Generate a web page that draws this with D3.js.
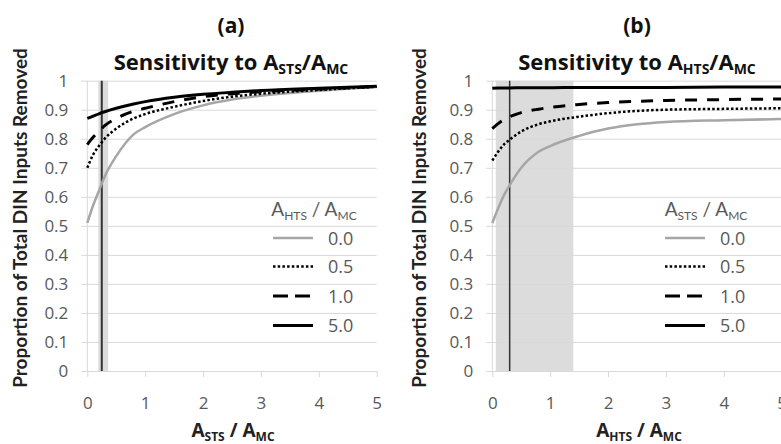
<!DOCTYPE html>
<html>
<head>
<meta charset="utf-8">
<script src="https://cdn.jsdelivr.net/npm/d3@7"></script>
<style>
  body { margin: 0; background: #fff; }
  svg { display: block; }
</style>
</head>
<body>
<svg id="chart" width="781" height="444"></svg>
<script>
const xPoints = [0, 0.1, 0.2, 0.3, 0.5, 0.8, 1, 1.5, 2, 2.5, 3, 4, 5];

// panel (a): sensitivity to A_STS/A_MC, one series per A_HTS/A_MC
const aHts00 = [0.51, 0.57, 0.62, 0.67, 0.74, 0.815, 0.84, 0.885, 0.915, 0.935, 0.948, 0.965, 0.978];
const aHts05 = [0.70, 0.745, 0.775, 0.80, 0.835, 0.87, 0.885, 0.91, 0.93, 0.945, 0.955, 0.968, 0.979];
const aHts10 = [0.78, 0.805, 0.825, 0.845, 0.87, 0.895, 0.905, 0.928, 0.945, 0.955, 0.962, 0.971, 0.98];
const aHts50 = [0.87, 0.878, 0.886, 0.893, 0.905, 0.92, 0.928, 0.943, 0.953, 0.96, 0.966, 0.974, 0.981];

// panel (b): sensitivity to A_HTS/A_MC, one series per A_STS/A_MC
const bSts00 = [0.51, 0.56, 0.605, 0.64, 0.70, 0.755, 0.775, 0.81, 0.835, 0.85, 0.858, 0.864, 0.868];
const bSts05 = [0.725, 0.755, 0.78, 0.797, 0.825, 0.85, 0.86, 0.876, 0.888, 0.896, 0.90, 0.903, 0.905];
const bSts10 = [0.835, 0.852, 0.866, 0.876, 0.89, 0.902, 0.908, 0.918, 0.925, 0.929, 0.932, 0.935, 0.937];
const bSts50 = [0.974, 0.975, 0.975, 0.975, 0.976, 0.976, 0.976, 0.977, 0.977, 0.977, 0.977, 0.978, 0.978];

const legendLabels = ["0.0", "0.5", "1.0", "5.0"];
const yTicks = [0, 0.1, 0.2, 0.3, 0.4, 0.5, 0.6, 0.7, 0.8, 0.9, 1];
const xTicks = [0, 1, 2, 3, 4, 5];

// reference line and shaded range on each panel
const aRefLine = 0.25;
const aRefBand = [0.19, 0.36];
const bRefLine = 0.3;
const bRefBand = [0.06, 1.4];

const FONT = "'Open Sans', Lato, sans-serif";
const FONT_NARROW = "Lato, 'Open Sans', sans-serif";
const GRID = "#d9d9d9";
const TEXT_GRAY = "#595959";

// line look for each legend entry
const styles = [
  { stroke: "#a6a6a6", width: 2.5, dash: null },
  { stroke: "#000", width: 2.5, dash: "2.5 2.2" },
  { stroke: "#000", width: 3, dash: "12 10" },
  { stroke: "#000", width: 3, dash: null }
];

const svg = d3.select("#chart");

// writes text made of normal and subscript parts
function richText(sel, parts, size) {
  const sub = Math.round(size * 0.62);
  const shift = Math.round(size * 0.2);
  let down = false;
  parts.forEach(([txt, isSub]) => {
    const t = sel.append("tspan").text(txt).attr("font-size", isSub ? sub : size);
    if (isSub && !down) { t.attr("dy", shift); down = true; }
    else if (!isSub && down) { t.attr("dy", -shift); down = false; }
  });
}

function drawPanel(p) {
  const x = d3.scaleLinear().domain([0, 5]).range([p.left, p.left + 289.4]);
  const y = d3.scaleLinear().domain([0, 1]).range([371, 80.7]);
  const g = svg.append("g");

  // shaded range
  g.append("rect")
    .attr("x", x(p.band[0]))
    .attr("y", y(1))
    .attr("width", x(p.band[1]) - x(p.band[0]))
    .attr("height", y(0) - y(1))
    .attr("fill", "#dcdcdc");

  // horizontal gridlines with y tick labels
  const yAxis = g.append("g")
    .attr("transform", `translate(${x(0)},0)`)
    .call(d3.axisLeft(y).tickValues(yTicks).tickFormat(d3.format("~g"))
      .tickSize(-(x(5) - x(0))).tickPadding(19));
  yAxis.select(".domain").remove();
  yAxis.selectAll(".tick line").attr("x1", -6).attr("stroke", GRID);
  yAxis.selectAll(".tick text")
    .attr("font-family", FONT).attr("font-size", 17).attr("fill", TEXT_GRAY);

  // x axis with outward ticks
  const xAxis = g.append("g")
    .attr("transform", `translate(0,${y(0)})`)
    .call(d3.axisBottom(x).tickValues(xTicks).tickFormat(d3.format("d"))
      .tickSize(6).tickPadding(20).tickSizeOuter(0));
  xAxis.select(".domain").attr("stroke", GRID);
  xAxis.selectAll(".tick line").attr("stroke", GRID);
  xAxis.selectAll(".tick text")
    .attr("font-family", FONT).attr("font-size", 17).attr("fill", TEXT_GRAY);

  // vertical axis line
  g.append("line")
    .attr("x1", x(0)).attr("x2", x(0))
    .attr("y1", y(1)).attr("y2", y(0))
    .attr("stroke", GRID);

  // reference line
  g.append("line")
    .attr("x1", x(p.ref)).attr("x2", x(p.ref))
    .attr("y1", y(1)).attr("y2", y(0))
    .attr("stroke", "#333").attr("stroke-width", p.refWidth);

  // curves
  const line = d3.line()
    .x((d, i) => x(xPoints[i]))
    .y(d => y(d))
    .curve(d3.curveMonotoneX);

  p.series.forEach((s, i) => {
    g.append("path")
      .datum(s)
      .attr("d", line)
      .attr("fill", "none")
      .attr("stroke", styles[i].stroke)
      .attr("stroke-width", styles[i].width)
      .attr("stroke-dasharray", styles[i].dash);
  });

  // titles
  g.append("text")
    .attr("x", p.titleX).attr("y", 33)
    .attr("text-anchor", "middle")
    .attr("font-family", FONT).attr("font-weight", "bold").attr("font-size", 21)
    .attr("fill", "#111")
    .text(p.tag);

  richText(g.append("text")
    .attr("x", p.titleX).attr("y", 70)
    .attr("text-anchor", "middle")
    .attr("font-family", FONT).attr("font-weight", "bold").attr("fill", "#111"),
    [["Sensitivity to A", false], [p.sub, true], ["/A", false], ["MC", true]], 22);

  // axis titles
  richText(g.append("text")
    .attr("x", p.titleX + 2).attr("y", 437)
    .attr("text-anchor", "middle")
    .attr("font-family", FONT).attr("font-weight", "bold").attr("fill", "#222"),
    [["A", false], [p.sub, true], [" / A", false], ["MC", true]], 19);

  g.append("text")
    .attr("transform", `translate(${p.yTitleX},218) rotate(-90)`)
    .attr("text-anchor", "middle")
    .attr("font-family", FONT_NARROW).attr("font-weight", "bold").attr("font-size", 19)
    .attr("fill", "#222")
    .text("Proportion of Total DIN Inputs Removed");

  // legend
  const lg = g.append("g").attr("transform", `translate(${p.legendX},0)`);
  richText(lg.append("text")
    .attr("x", 41).attr("y", 216)
    .attr("text-anchor", "middle")
    .attr("font-family", FONT_NARROW).attr("fill", TEXT_GRAY),
    [["A", false], [p.legendSub, true], [" / A", false], ["MC", true]], 19);

  const rowY = [238, 266.5, 296, 325.5];
  legendLabels.forEach((lab, i) => {
    lg.append("line")
      .attr("x1", 0).attr("x2", 40)
      .attr("y1", rowY[i]).attr("y2", rowY[i])
      .attr("stroke", styles[i].stroke)
      .attr("stroke-width", styles[i].width)
      .attr("stroke-dasharray", i === 2 ? "15 7" : styles[i].dash);
    lg.append("text")
      .attr("x", 55).attr("y", rowY[i] + 6.5)
      .attr("font-family", FONT).attr("font-size", 18).attr("fill", TEXT_GRAY)
      .text(lab);
  });
}

drawPanel({
  left: 87.3, titleX: 231, yTitleX: 27, legendX: 273, tag: "(a)",
  sub: "STS", legendSub: "HTS",
  series: [aHts00, aHts05, aHts10, aHts50],
  ref: aRefLine, band: aRefBand, refWidth: 2
});

drawPanel({
  left: 492.3, titleX: 637, yTitleX: 426, legendX: 665, tag: "(b)",
  sub: "HTS", legendSub: "STS",
  series: [bSts00, bSts05, bSts10, bSts50],
  ref: bRefLine, band: bRefBand, refWidth: 1.5
});
</script>
</body>
</html>
